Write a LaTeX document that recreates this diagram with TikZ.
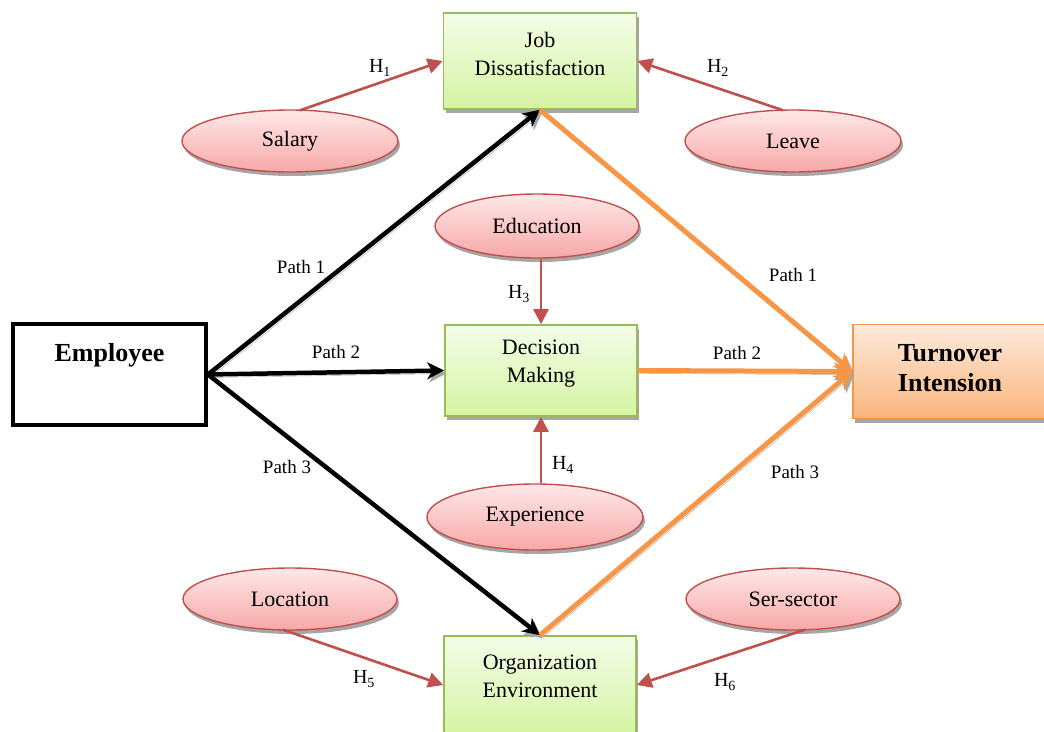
\documentclass[tikz,border=0pt]{standalone}
\usepackage{fontspec}
\setmainfont{Liberation Serif}
\usetikzlibrary{shapes.geometric,arrows.meta,shadows,calc}
\definecolor{gborder}{HTML}{9BBB59}
\definecolor{gtop}{HTML}{F4FDE8}
\definecolor{gbot}{HTML}{D5F4A2}
\definecolor{rborder}{HTML}{C0504D}
\definecolor{rtop}{HTML}{FFE8E8}
\definecolor{rbot}{HTML}{F7A8A8}
\definecolor{oborder}{HTML}{F79646}
\definecolor{otop}{HTML}{FDEBDC}
\definecolor{obot}{HTML}{FAB47C}
\definecolor{shad}{HTML}{A6A6A6}
\tikzset{
  shd/.style={drop shadow={shadow xshift=2pt,shadow yshift=-4pt,fill=shad,opacity=1}},
  gbox/.style={rectangle,draw=gborder,line width=1.6pt,top color=gtop,bottom color=gbot,shd,inner sep=0pt},
  obox/.style={rectangle,draw=oborder,line width=1.6pt,top color=otop,bottom color=obot,shd,inner sep=0pt},
  ell/.style={ellipse,draw=rborder,line width=1.4pt,top color=rtop,bottom color=rbot,shd,inner sep=0pt,font=\fontsize{22}{26}\selectfont},
  boxtxt/.style={align=center,font=\fontsize{22}{28}\selectfont,inner sep=0pt},
  bigtxt/.style={align=center,font=\fontsize{26}{30}\selectfont\bfseries,inner sep=0pt},
  lbl/.style={font=\fontsize{19}{22}\selectfont,inner sep=0pt},
  hlbl/.style={font=\fontsize{20}{22}\selectfont,inner sep=0pt},
  lshadow/.style={preaction={draw=shad,transform canvas={shift={(2pt,-3pt)}}}},
  blk/.style={line width=4.5pt,black,-{Stealth[length=17pt,width=17pt,inset=5pt]},lshadow},
  org/.style={line width=5pt,oborder,-{Stealth[length=18pt,width=18pt,inset=5pt]},lshadow},
  red/.style={line width=2.6pt,rborder,-{Triangle[length=15pt,width=15pt]}},
}
\begin{document}
\begin{tikzpicture}[x=1pt,y=-1pt]
\useasboundingbox (0,0) rectangle (1044,731);
\clip (0,0) rectangle (1044,731);
% boxes
\node[gbox,minimum width=193pt,minimum height=96pt] (jd) at (540,61) {};
\node[boxtxt] (jdt) at (540,54) {Job\\Dissatisfaction};
\node[gbox,minimum width=192pt,minimum height=91pt] (dm) at (541,370.5) {};
\node[boxtxt] (dmt) at (541,364) {Decision\\Making};
\node[gbox,minimum width=192pt,minimum height=98pt] (oe) at (540,685) {};
\node[boxtxt] (oet) at (540,676) {Organization\\Environment};
\node[rectangle,draw=black,line width=4pt,minimum width=193pt,minimum height=101pt,inner sep=0pt] (emp) at (109.5,374.5) {};
\node[bigtxt] (empt) at (109.5,355) {Employee};
\node[obox,minimum width=194pt,minimum height=94pt] (to) at (950,371.5) {};
\node[bigtxt] (tot) at (950,368) {Turnover\\Intension};
% ellipses
\node[ell,minimum width=216pt,minimum height=62pt] (sal) at (290,141) {Salary};
\node[ell,minimum width=216pt,minimum height=62pt] (lea) at (793,141) {Leave};
\node[ell,minimum width=204pt,minimum height=64pt] (edu) at (537,226) {Education};
\node[ell,minimum width=216pt,minimum height=66pt] (exp) at (535,517) {Experience};
\node[ell,minimum width=214pt,minimum height=62pt] (loc) at (290,599) {Location};
\node[ell,minimum width=214pt,minimum height=62pt] (ser) at (793,599) {Ser-sector};
% black paths
\draw[blk] (emp.east) -- (jd.south);
\draw[blk] (emp.east) -- (dm.west);
\draw[blk] (emp.east) -- (oe.north);
% orange paths
\draw[org] (jd.south) -- (to.west);
\draw[org] (dm.east) -- (to.west);
\draw[org] (oe.north) -- (to.west);
% red hypotheses arrows
\coordinate (h1s) at ($(sal.north)+(10,1)$);
\coordinate (h2s) at ($(lea.north)+(-10,1)$);
\coordinate (h5s) at ($(loc.south)+(-7,-1)$);
\coordinate (h6s) at ($(ser.south)+(12,-1)$);
\draw[red] (h1s) -- (jd.west);
\draw[red] (h2s) -- (jd.east);
\draw[red] (dm.north |- edu.south) -- (dm.north);
\draw[red] (dm.south |- exp.north) -- (dm.south);
\draw[red] (h5s) -- (oe.west);
\draw[red] (h6s) -- (oe.east);
% labels
\node[lbl] (p1l) at (301,267) {Path 1};
\node[lbl] (p2l) at (336,352) {Path 2};
\node[lbl] (p3l) at (287,467) {Path 3};
\node[lbl] (p1r) at (793,275) {Path 1};
\node[lbl] (p2r) at (737,353) {Path 2};
\node[lbl] (p3r) at (795,472) {Path 3};
\node[hlbl] (h1) at (380,68) {H\textsubscript{1}};
\node[hlbl] (h2) at (718,68) {H\textsubscript{2}};
\node[hlbl] (h3) at (519,294) {H\textsubscript{3}};
\node[hlbl] (h4) at (563,465) {H\textsubscript{4}};
\node[hlbl] (h5) at (364,679) {H\textsubscript{5}};
\node[hlbl] (h6) at (725,682) {H\textsubscript{6}};
\end{tikzpicture}
\end{document}
